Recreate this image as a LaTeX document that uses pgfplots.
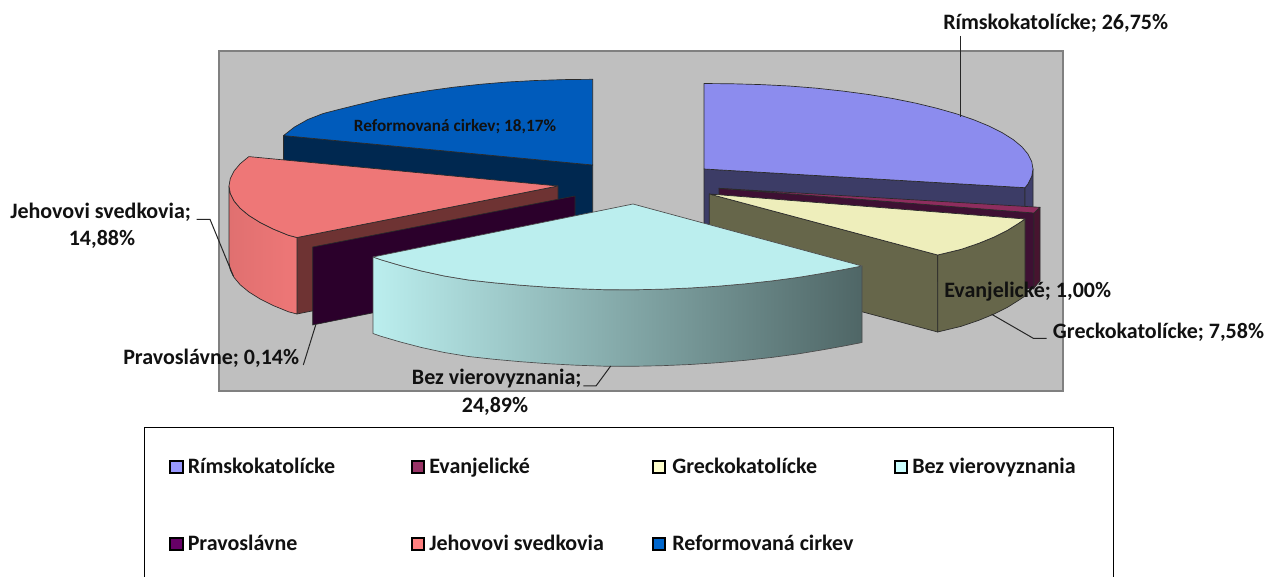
\documentclass[border=0pt]{standalone}
\usepackage{fontspec}
\setmainfont{Carlito}
\usepackage{pgfplots}
\pgfplotsset{compat=1.18}
\definecolor{frame}{HTML}{808080}
\definecolor{wall}{HTML}{BFBFBF}
\definecolor{edge}{HTML}{2A2A2A}
\definecolor{lab}{HTML}{111111}
\definecolor{sRim}{HTML}{9999FF}
\definecolor{sEva}{HTML}{993366}
\definecolor{sGre}{HTML}{FFFFCC}
\definecolor{sBez}{HTML}{CCFFFF}
\definecolor{sPra}{HTML}{660066}
\definecolor{sJeh}{HTML}{FF8080}
\definecolor{sRef}{HTML}{0066CC}
\definecolor{tRim}{HTML}{8C8CEE}
\definecolor{cRim}{HTML}{3C3C66}
\definecolor{dRim}{HTML}{3F3F6B}
\definecolor{tEva}{HTML}{8E2D5E}
\definecolor{cEva}{HTML}{3E1033}
\definecolor{dEva}{HTML}{47142F}
\definecolor{tGre}{HTML}{EEEEBB}
\definecolor{cGre}{HTML}{66664A}
\definecolor{tBez}{HTML}{BBEEEE}
\definecolor{mBez}{HTML}{9BBDBD}
\definecolor{eBez}{HTML}{4F6666}
\definecolor{cPra}{HTML}{2B002B}
\definecolor{tJeh}{HTML}{EE7777}
\definecolor{lJeh}{HTML}{E07070}
\definecolor{cJeh}{HTML}{6E3333}
\definecolor{tRef}{HTML}{005BBB}
\definecolor{cRef}{HTML}{002850}
\pgfplotsset{
  pie/.style={forget plot,no markers,line join=round,line width=0.5pt,draw=edge},
  leader/.style={forget plot,no markers,line width=0.75pt,draw=black!85},
  swatch/.style={forget plot,only marks,mark=square*,mark size=4.6pt,
    mark options={draw=black,line width=1.5pt,fill=#1}},
}
\tikzset{txt/.style={anchor=base west,inner sep=0pt},ctr/.style={anchor=base,inner sep=0pt}}
\newcommand{\lbl}[1]{\fontsize{16.5}{19}\selectfont\bfseries\textcolor{lab}{#1}}
\begin{document}
\begin{tikzpicture}
\begin{axis}[
  width=951pt,height=432.75pt,scale only axis,
  xmin=0,xmax=1268,ymin=0,ymax=577,y dir=reverse,
  hide axis,clip=true,
]
% page
\addplot[forget plot,no markers,draw=none,fill=white] coordinates {(0,0)(1268,0)(1268,577)(0,577)} -- cycle;
% legend frame
\addplot[forget plot,no markers,draw=black,line width=0.75pt] coordinates {(144.5,580)(144.5,427.5)(1113,427.5)(1113,580)};
% legend keys
\addplot[swatch=sRim] coordinates {(176.5,467)};
\addplot[swatch=sEva] coordinates {(418,467)};
\addplot[swatch=sGre] coordinates {(659,467)};
\addplot[swatch=sBez] coordinates {(901,467)};
\addplot[swatch=sPra] coordinates {(176.5,544)};
\addplot[swatch=sJeh] coordinates {(418,544)};
\addplot[swatch=sRef] coordinates {(659,544)};
% plot wall
\addplot[forget plot,no markers,draw=frame,line width=1.5pt,fill=wall] coordinates {(218.5,51.5)(1062.5,51.5)(1062.5,391.5)(218.5,391.5)} -- cycle;

% Reformovaná cirkev
\addplot[pie,fill=cRef] coordinates {(283.5,135.6)(592.7,165)(592.7,241)(283.5,212)} -- cycle;
\addplot[pie,fill=tRef] coordinates {(592.7,165)(592.7,79.3)(564,79.6)(535.6,80.5)(507.6,82)(480.2,84.3)(453.7,87.2)(428.2,90.7)(404,94.7)(381.2,99.1)(360.1,104.2)(340.7,109)(323.2,113.5)(307.8,119.5)(294.5,127)(283.5,135.6)} -- cycle;

% Rímskokatolícke
\addplot[pie,fill=cRim] coordinates {(704,169)(1025,187.7)(1025,264)(704,245)} -- cycle;
\addplot[pie,fill=dRim] coordinates {(1025,187.7)(1028,183.9)(1031.7,176.5)(1033,169)(1033,245)(1031.7,252.5)(1028,260)(1025,264)} -- cycle;
\addplot[pie,fill=tRim] coordinates {(704,169)(704,83.5)(732.7,83.8)(761.1,84.6)(789.1,86)(816.5,88.2)(843,91.1)(868.5,94.5)(892.7,98.5)(915.5,103.1)(936.6,108.2)(956,113.7)(973.5,119.7)(988.9,126)(1002.2,132.7)(1013.2,139.6)(1021.8,146.7)(1028,154.1)(1031.7,161.5)(1033,169)(1031.7,176.5)(1028,183.9)(1025,187.7)} -- cycle;

% Evanjelické
\addplot[pie,fill=cEva] coordinates {(719,188.3)(1034,213)(1034,289)(719,265)} -- cycle;
\addplot[pie,fill=dEva] coordinates {(1034,213)(1040,207.3)(1040,281)(1034,288)} -- cycle;
\addplot[pie,fill=tEva] coordinates {(719,188.3)(1040,207.3)(1034,213)} -- cycle;

% Greckokatolícke
\addplot[pie,fill=cGre] coordinates {(709.3,194)(937.7,255)(937.7,332)(709.3,271)} -- cycle;
\addplot[pie,fill=cGre] coordinates {(937.7,255)(961.3,249.3)(978.8,243.3)(994.2,237)(1007.5,230.3)(1018.5,223.4)(1025,219)(1025,296)(1018.5,300.4)(1007.5,307.3)(994.2,314)(978.8,320.3)(961.3,326.3)(937.7,332)} -- cycle;
\addplot[pie,fill=tGre] coordinates {(709.3,194)(937.7,255)(961.3,249.3)(978.8,243.3)(994.2,237)(1007.5,230.3)(1018.5,223.4)(1025,219)} -- cycle;

% Jehovovi svedkovia
\addplot[pie,fill=cJeh] coordinates {(297,237.5)(558,186)(558,262)(297,314)} -- cycle;
\addplot[pie,left color=lJeh,right color=tJeh] coordinates {(229,186)(230.3,193.5)(234,200.9)(240.2,208.3)(248.8,215.4)(259.8,222.3)(273.1,229)(288.5,235.3)(297,237.5)(297,314)(288.5,311.8)(273.1,305.5)(259.8,298.8)(248.8,291.9)(240.2,284.8)(234,277.4)(230.3,270)(229,262.5)} -- cycle;
\addplot[pie,fill=tJeh] coordinates {(558,186)(248.8,156.6)(240.2,163.7)(234,171.1)(230.3,178.5)(229,186)(230.3,193.5)(234,200.9)(240.2,208.3)(248.8,215.4)(259.8,222.3)(273.1,229)(288.5,235.3)(297,237.5)} -- cycle;

% Pravoslávne
\addplot[pie,fill=cPra] coordinates {(312.7,247)(575,196)(575,272)(312.7,325)} -- cycle;

% Bez vierovyznania
\addplot[pie,draw=black!70,left color=tBez,middle color=mBez,right color=eBez] coordinates {(373,257)(381,259.8)(400.4,265.5)(421.5,271)(444.3,276)(468.5,280)(494,282.8)(520.5,285.2)(547.9,287.2)(575.9,288.7)(604.3,289.7)(633,289.8)(661.7,289.2)(690.1,288)(718.1,286.2)(745.5,283.8)(772,280.9)(797.5,277.5)(821.7,273.5)(844.5,269.4)(862,266)(862,342.5)(844.5,345.9)(821.7,350)(797.5,354)(772,357.4)(745.5,360.3)(718.1,362.7)(690.1,364.5)(661.7,365.7)(633,366.3)(604.3,366.2)(575.9,365.2)(547.9,363.7)(520.5,361.7)(494,359.3)(468.5,356.5)(444.3,352.5)(421.5,347.5)(400.4,342)(381,336.3)(373,333.5)} -- cycle;
\addplot[pie,draw=black!70,fill=tBez] coordinates {(633,204)(862,266)(844.5,269.4)(821.7,273.5)(797.5,277.5)(772,280.9)(745.5,283.8)(718.1,286.2)(690.1,288)(661.7,289.2)(633,289.8)(604.3,289.7)(575.9,288.7)(547.9,287.2)(520.5,285.2)(494,282.8)(468.5,280)(444.3,276)(421.5,271)(400.4,265.5)(381,259.8)(373,257)} -- cycle;

% leader lines
\addplot[leader] coordinates {(960.7,36)(960.7,116.7)};
\addplot[leader] coordinates {(196.7,219.3)(210,219.3)(233.3,276)};
\addplot[leader] coordinates {(303.3,365)(315.7,325)};
\addplot[leader] coordinates {(583.3,386)(596,386)(610.7,366)};
\addplot[leader] coordinates {(1046.7,338.3)(1033.3,338.3)(991.7,314.3)};

% labels
\node[txt] at (axis cs:943,29.5) {\lbl{Rímskokatolícke; 26,75\%}};
\node[ctr] at (axis cs:455,131.7) {\fontsize{12.9}{15}\selectfont\bfseries\textcolor{lab}{Reformovaná cirkev; 18,17\%}};
\node[txt] at (axis cs:10,219) {\lbl{Jehovovi svedkovia;}};
\node[ctr] at (axis cs:102,245.5) {\lbl{14,88\%}};
\node[txt] at (axis cs:123,365) {\lbl{Pravoslávne; 0,14\%}};
\node[txt] at (axis cs:411.7,385) {\lbl{Bez vierovyznania;}};
\node[ctr] at (axis cs:495,412) {\lbl{24,89\%}};
\node[txt] at (axis cs:944,298) {\lbl{Evanjelické; 1,00\%}};
\node[txt] at (axis cs:1052.7,339) {\lbl{Greckokatolícke; 7,58\%}};
% legend texts
\node[txt] at (axis cs:187.5,473) {\lbl{Rímskokatolícke}};
\node[txt] at (axis cs:429,473) {\lbl{Evanjelické}};
\node[txt] at (axis cs:672,473) {\lbl{Greckokatolícke}};
\node[txt] at (axis cs:912,473) {\lbl{Bez vierovyznania}};
\node[txt] at (axis cs:187.5,550) {\lbl{Pravoslávne}};
\node[txt] at (axis cs:429,550) {\lbl{Jehovovi svedkovia}};
\node[txt] at (axis cs:672,550) {\lbl{Reformovaná cirkev}};
\end{axis}
\end{tikzpicture}
\end{document}
